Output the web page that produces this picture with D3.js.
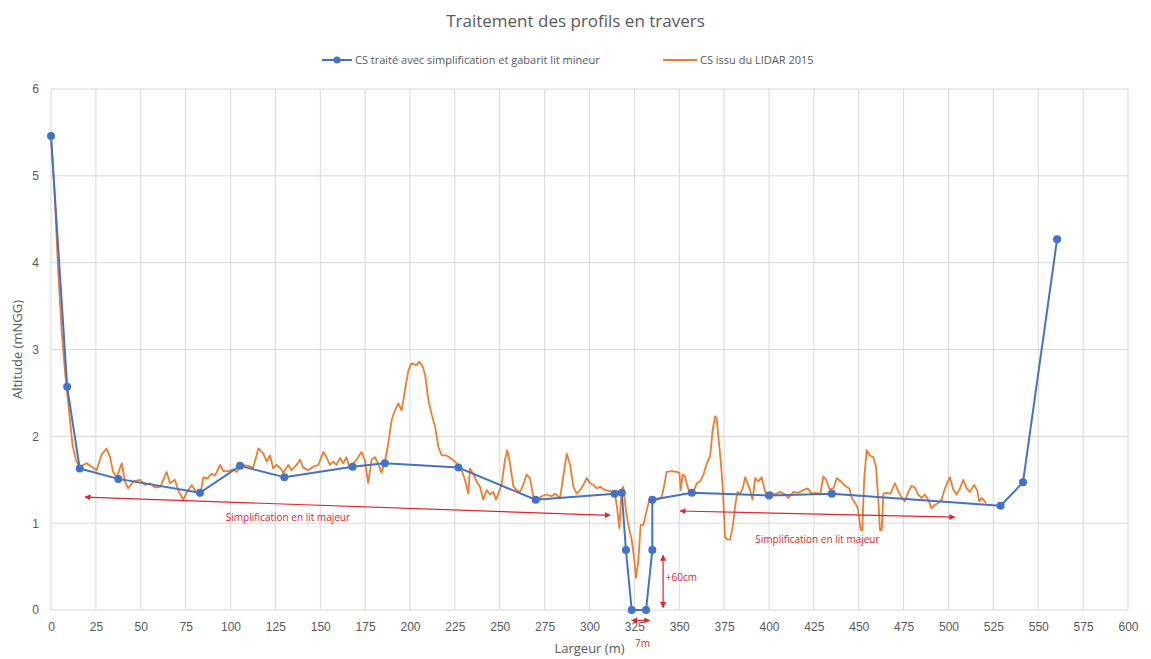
<!DOCTYPE html>
<html>
<head>
    <meta charset="utf-8">
    <title>Traitement des profils en travers</title>
    <script src="https://d3js.org/d3.v7.min.js"></script>
    <style>
        body { margin: 0; background: #fff; }
        svg { font-family: "Open Sans", "Liberation Sans", sans-serif; }
        .grid line { stroke: #d9d9d9; stroke-width: 1px; }
        .tick text { fill: #595959; font-size: 12px; }
        .annot { fill: #e3232b; font-size: 10px; }
    </style>
</head>
<body>
<div id="chart"></div>
<script>
    // axes
    const xTicks = d3.range(0, 601, 25);
    const yTicks = [0, 1, 2, 3, 4, 5, 6];

    // CS traité avec simplification et gabarit lit mineur
    const traiteX = [0, 9, 16, 37.5, 83, 105.3, 130, 168, 186, 227, 270, 314, 318, 320.3, 323.5, 331.5, 335, 335, 357, 400, 435, 529, 541.5, 560.5];
    const traiteY = [5.46, 2.57, 1.63, 1.51, 1.35, 1.66, 1.53, 1.65, 1.69, 1.64, 1.27, 1.34, 1.35, 0.69, 0, 0, 0.69, 1.27, 1.35, 1.32, 1.34, 1.2, 1.47, 4.27];

    // CS issu du LIDAR 2015
    const lidarX = [0, 2, 4, 6, 8, 10, 12, 14, 16, 19.9, 22.7, 25.4, 28.2, 31, 32.9, 34.6, 36.6, 39.4, 41.2, 43, 45.9, 49.6, 52.4, 55, 58, 61, 64.4, 66.3, 69, 71, 73.7, 75.5, 78.4, 81, 83, 84.9, 86.8, 89.6, 91.4, 94.2, 96, 98.9,
        101.6, 103.4, 106.2, 109.9, 112.7, 115.5, 118.3, 120.1, 122, 123.8, 125.7, 127.5, 129.4, 132.2, 134, 136.8, 138.7, 140.5, 143.3, 146.1, 148.9, 151.7, 153.5, 155.4, 157.2, 159.1, 160.9, 162.8, 164.6, 166.5, 168.4, 170.2, 173, 174.8, 176.7, 178.6, 180.4, 182.3, 184.1, 186, 187.9, 189.8, 191.6, 193.5, 195.3, 197.2, 199.1,
        200.9, 203.7, 205.2, 207.1, 208.4, 210.2, 212.1, 214, 215.8, 217.7, 220.4, 223.2, 226, 228.8, 230.6, 232.5, 233.4, 235.3, 237.1, 239, 240.8, 242.7, 244.6, 246.4, 247.9, 249.2, 251, 252.9, 254.2, 255.7, 257.6, 259.4, 261.3, 263.1, 265, 266.8, 268.7, 270.6, 273.4, 276.1, 278.9, 280.8, 283.6, 285.4, 287.3, 289.2, 291, 292.9, 294.7, 296.6, 298.5,
        300.3, 302.2, 304, 305.9, 308.7, 311.5, 314.2, 315.5, 316.6, 317.9, 318.8, 320.3, 321.6, 323.5, 324.8, 325.9, 327.2, 328.5, 330, 331.9, 333.7, 335.6, 337.4, 340.2, 341.5, 343, 345.8, 348.6, 350.1, 350.8, 351.9, 353.2, 354.6, 356.1, 357.9, 359.8, 361.6, 363.5, 365.4, 367.2, 368.6, 369.9, 370.9, 371.8, 373.1, 374.2, 375.5, 376.8, 378.3, 379.8, 381.1, 382.4, 383.9, 385.4, 386.7, 388, 389.5, 390.8, 392.3, 394.1, 396, 397.3, 398.8,
        400.6, 403.4, 406.2, 409, 410.8, 413.6, 416.4, 419.2, 421.5, 423.8, 426.6, 428.5, 430.3, 431.8, 433.7, 435.9, 437.8, 440, 442.4, 444.8, 446.1, 448, 449.5, 451.1, 452, 453, 454.4, 456.2, 458.1, 459.6, 460.9, 461.8, 462.8, 463.7, 465.5, 467.7, 470.1, 472, 473.8, 475.7, 477.6, 479.4, 481.3, 483.1, 485, 486.8, 488.7, 490.6, 492.4, 494.3, 496.1, 498, 500.8, 502.6, 504.5, 506.4, 508.2, 510.1, 511.9, 514.2, 516, 517.1, 518.4, 520.3, 520.9];
    const lidarY = [5.45, 4.8, 3.9, 3.2, 2.7, 2.3, 1.9, 1.72, 1.65, 1.69, 1.65, 1.61, 1.79, 1.86, 1.76, 1.59, 1.53, 1.69, 1.48, 1.4, 1.48, 1.5, 1.44, 1.46, 1.41, 1.42, 1.59, 1.46, 1.5, 1.37, 1.27, 1.35, 1.44, 1.35, 1.31, 1.53, 1.51, 1.57, 1.55, 1.67, 1.6, 1.6,
        1.62, 1.59, 1.67, 1.66, 1.64, 1.86, 1.8, 1.71, 1.78, 1.63, 1.67, 1.64, 1.58, 1.67, 1.61, 1.67, 1.73, 1.64, 1.61, 1.65, 1.67, 1.82, 1.76, 1.67, 1.71, 1.67, 1.75, 1.69, 1.76, 1.63, 1.69, 1.73, 1.82, 1.73, 1.46, 1.73, 1.76, 1.69, 1.58, 1.71, 1.92, 2.19, 2.3, 2.38, 2.3, 2.53, 2.76,
        2.84, 2.82, 2.86, 2.8, 2.71, 2.42, 2.25, 2.11, 1.88, 1.78, 1.78, 1.74, 1.69, 1.61, 1.5, 1.34, 1.63, 1.57, 1.48, 1.42, 1.27, 1.38, 1.33, 1.36, 1.27, 1.34, 1.44, 1.73, 1.84, 1.69, 1.42, 1.38, 1.36, 1.44, 1.56, 1.52, 1.31, 1.27, 1.31, 1.33, 1.31, 1.34, 1.29, 1.54, 1.8, 1.67, 1.42, 1.34, 1.38, 1.44, 1.52,
        1.46, 1.44, 1.4, 1.42, 1.38, 1.37, 1.34, 1.15, 0.94, 1.38, 1.42, 1.15, 0.98, 0.81, 0.61, 0.37, 0.57, 0.98, 0.98, 1.15, 1.3, 1.29, 1.27, 1.3, 1.42, 1.59, 1.6, 1.59, 1.58, 1.38, 1.56, 1.54, 1.42, 1.34, 1.36, 1.46, 1.48, 1.56, 1.69, 1.77, 2.07, 2.23, 2.2, 1.99, 1.72, 1.42, 0.84, 0.81, 0.81, 0.96, 1.19, 1.36, 1.34, 1.4, 1.53, 1.46, 1.38, 1.27, 1.52, 1.48, 1.53, 1.4, 1.32,
        1.36, 1.33, 1.36, 1.33, 1.29, 1.36, 1.35, 1.38, 1.4, 1.34, 1.35, 1.33, 1.54, 1.5, 1.39, 1.4, 1.52, 1.48, 1.43, 1.4, 1.29, 1.23, 1.17, 0.92, 0.92, 1.5, 1.84, 1.78, 1.76, 1.65, 1.27, 0.92, 0.92, 1.34, 1.35, 1.34, 1.46, 1.37, 1.3, 1.25, 1.36, 1.43, 1.41, 1.33, 1.29, 1.33, 1.27, 1.17, 1.21, 1.23, 1.27, 1.4, 1.53, 1.39, 1.33, 1.4, 1.5, 1.4, 1.36, 1.44, 1.38, 1.25, 1.29, 1.25, 1.23];

    const seriesNames = ["CS traité avec simplification et gabarit lit mineur", "CS issu du LIDAR 2015"];

    const width = 1151, height = 659;
    const margin = {top: 89, right: 23, bottom: 49, left: 51};
    const blue = "#4472c4", orange = "#ed7d31", red = "#e3232b";

    const svg = d3.select("#chart").append("svg")
        .attr("width", width)
        .attr("height", height);

    const x = d3.scaleLinear().domain([0, 600]).range([margin.left, width - margin.right]);
    const y = d3.scaleLinear().domain([0, 6]).range([height - margin.bottom, margin.top]);

    // gridlines
    svg.append("g").attr("class", "grid")
        .selectAll("line.v").data(xTicks).enter().append("line")
        .attr("x1", d => x(d)).attr("x2", d => x(d))
        .attr("y1", y(6)).attr("y2", y(0));
    svg.append("g").attr("class", "grid")
        .selectAll("line.h").data(yTicks).enter().append("line")
        .attr("x1", x(0)).attr("x2", x(600))
        .attr("y1", d => y(d)).attr("y2", d => y(d));

    // axes (labels only, Excel style)
    const xAxis = svg.append("g")
        .attr("transform", `translate(0,${y(0)})`)
        .call(d3.axisBottom(x).tickValues(xTicks).tickSize(0).tickPadding(12));
    xAxis.select(".domain").remove();

    const yAxis = svg.append("g")
        .attr("transform", `translate(${x(0)},0)`)
        .call(d3.axisLeft(y).tickValues(yTicks).tickFormat(d3.format("d")).tickSize(0).tickPadding(12));
    yAxis.select(".domain").remove();

    // titles
    svg.append("text")
        .attr("x", width / 2).attr("y", 27)
        .attr("text-anchor", "middle")
        .attr("fill", "#595959")
        .style("font-size", "17px")
        .text("Traitement des profils en travers");

    svg.append("text")
        .attr("x", x(300)).attr("y", 653)
        .attr("text-anchor", "middle")
        .attr("fill", "#595959")
        .style("font-size", "13px")
        .text("Largeur (m)");

    svg.append("text")
        .attr("transform", `translate(22,${y(3)}) rotate(-90)`)
        .attr("text-anchor", "middle")
        .attr("fill", "#595959")
        .style("font-size", "13px")
        .text("Altitude (mNGG)");

    // series
    const line = d3.line().x(d => x(d[0])).y(d => y(d[1]));
    const lidar = lidarX.map((v, i) => [v, lidarY[i]]);
    const traite = traiteX.map((v, i) => [v, traiteY[i]]);

    svg.append("path").datum(lidar)
        .attr("fill", "none")
        .attr("stroke", orange)
        .attr("stroke-width", 1.8)
        .attr("stroke-linejoin", "round")
        .attr("d", line);

    svg.append("path").datum(traite)
        .attr("fill", "none")
        .attr("stroke", blue)
        .attr("stroke-width", 2)
        .attr("stroke-linejoin", "round")
        .attr("d", line);

    svg.selectAll("circle.pt").data(traite).enter().append("circle")
        .attr("class", "pt")
        .attr("cx", d => x(d[0]))
        .attr("cy", d => y(d[1]))
        .attr("r", 4)
        .attr("fill", blue);

    // legend
    const leg = svg.append("g").attr("class", "legend");
    leg.append("line").attr("x1", 322).attr("x2", 352).attr("y1", 60).attr("y2", 60)
        .attr("stroke", blue).attr("stroke-width", 2);
    leg.append("circle").attr("cx", 337).attr("cy", 60).attr("r", 3.5).attr("fill", blue);
    leg.append("text").attr("x", 355).attr("y", 64).attr("fill", "#595959")
        .style("font-size", "11px").text(seriesNames[0]);
    leg.append("line").attr("x1", 663).attr("x2", 697).attr("y1", 60).attr("y2", 60)
        .attr("stroke", orange).attr("stroke-width", 2);
    leg.append("text").attr("x", 700).attr("y", 64).attr("fill", "#595959")
        .style("font-size", "11px").text(seriesNames[1]);

    // annotations
    const defs = svg.append("defs");
    defs.append("marker").attr("id", "arr")
        .attr("viewBox", "0 0 10 10").attr("refX", 9).attr("refY", 5)
        .attr("markerWidth", 5).attr("markerHeight", 5)
        .attr("markerUnits", "strokeWidth")
        .attr("orient", "auto-start-reverse")
        .append("path").attr("d", "M0,0L10,5L0,10z").attr("fill", red);

    const arrows = [
        {x1: 19, y1: 1.30, x2: 311.5, y2: 1.09},
        {x1: 350.5, y1: 1.14, x2: 503.5, y2: 1.07},
        {x1: 341, y1: 0.63, x2: 341, y2: 0.03},
        {x1: 323.5, y1: -0.12, x2: 333.5, y2: -0.12}
    ];
    svg.selectAll("line.arrow").data(arrows).enter().append("line")
        .attr("class", "arrow")
        .attr("x1", d => x(d.x1)).attr("y1", d => y(d.y1))
        .attr("x2", d => x(d.x2)).attr("y2", d => y(d.y2))
        .attr("stroke", red).attr("stroke-width", 1.2)
        .attr("marker-start", "url(#arr)")
        .attr("marker-end", "url(#arr)");

    const notes = [
        {x: 132, y: 1.03, t: "Simplification en lit majeur", a: "middle"},
        {x: 427, y: 0.77, t: "Simplification en lit majeur", a: "middle"},
        {x: 342.5, y: 0.33, t: "+60cm", a: "start"},
        {x: 329.5, y: -0.43, t: "7m", a: "middle"}
    ];
    svg.selectAll("text.annot").data(notes).enter().append("text")
        .attr("class", "annot")
        .attr("x", d => x(d.x)).attr("y", d => y(d.y))
        .attr("text-anchor", d => d.a)
        .text(d => d.t);
</script>
</body>
</html>
